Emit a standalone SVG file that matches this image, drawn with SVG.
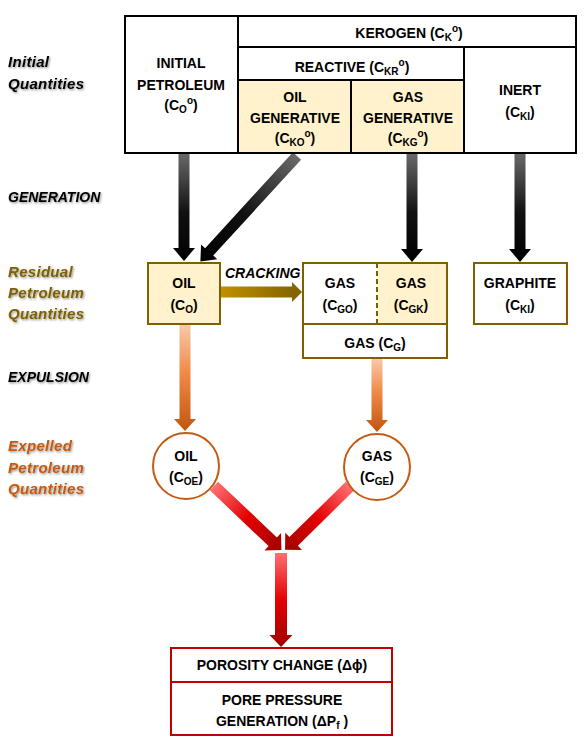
<svg xmlns="http://www.w3.org/2000/svg" width="588" height="746" viewBox="0 0 588 746">
<style>
text{font-family:"Liberation Sans",Arial,sans-serif;font-size:14px;font-weight:bold;fill:#000}
.c{text-anchor:middle}
.s{font-size:10px}
.lbl{font-style:italic;filter:url(#sh)}
.lw{font-size:15px;letter-spacing:0.3px}
.res{fill:#7F6000}
.exp{fill:#C55A11}
.bk{fill:none;stroke:#000;stroke-width:2}
.ol{stroke:#7F6000;stroke-width:2}
.rd{stroke:#C00000;stroke-width:2}
</style>
<defs>
<filter id="sh" x="-10%" y="-20%" width="130%" height="160%"><feDropShadow dx="1" dy="1.2" stdDeviation="0.9" flood-color="#000" flood-opacity="0.45"/></filter>
<linearGradient id="gk" x1="0" y1="0" x2="1" y2="0"><stop offset="0" stop-color="#6a6a6a"/><stop offset="0.55" stop-color="#111"/><stop offset="1" stop-color="#000"/></linearGradient>
<linearGradient id="gy" x1="0" y1="0" x2="1" y2="0"><stop offset="0" stop-color="#C09000"/><stop offset="1" stop-color="#7F6000"/></linearGradient>
<linearGradient id="go" x1="0" y1="0" x2="1" y2="0"><stop offset="0" stop-color="#F8C8A8"/><stop offset="0.45" stop-color="#F08A48"/><stop offset="1" stop-color="#C0560F"/></linearGradient>
<linearGradient id="gr" x1="0" y1="0" x2="1" y2="0"><stop offset="0" stop-color="#FF6F73"/><stop offset="0.5" stop-color="#E30000"/><stop offset="1" stop-color="#A00000"/></linearGradient>
</defs>
<rect width="588" height="746" fill="#fff"/>

<g id="labels">
<text class="lbl lw" x="8" y="67">Initial</text>
<text class="lbl lw" x="8" y="89">Quantities</text>
<text class="lbl" x="8" y="202">GENERATION</text>
<text class="lbl lw res" x="8" y="277">Residual</text>
<text class="lbl lw res" x="8" y="298">Petroleum</text>
<text class="lbl lw res" x="8" y="319">Quantities</text>
<text class="lbl" x="8" y="382">EXPULSION</text>
<text class="lbl lw exp" x="8" y="451">Expelled</text>
<text class="lbl lw exp" x="8" y="473">Petroleum</text>
<text class="lbl lw exp" x="8" y="494">Quantities</text>
</g>

<g id="connectors">
<polygon fill="url(#gk)" transform="translate(184,153) rotate(90)" points="0,-5.5 95,-5.5 95,-11 108,0 95,11 95,5.5 0,5.5"/>
<polygon fill="url(#gk)" transform="translate(297,156) rotate(132.5)" points="0,-5.5 130,-5.5 130,-11 143,0 130,11 130,5.5 0,5.5"/>
<polygon fill="url(#gk)" transform="translate(412,153) rotate(90)" points="0,-5.5 96,-5.5 96,-11 109,0 96,11 96,5.5 0,5.5"/>
<polygon fill="url(#gk)" transform="translate(520,153) rotate(90)" points="0,-5.5 96,-5.5 96,-11 109,0 96,11 96,5.5 0,5.5"/>
<polygon fill="url(#gy)" transform="translate(221,292)" points="0,-5.5 71,-5.5 71,-10 81,0 71,10 71,5.5 0,5.5"/>
<text x="225" y="278" style="font-style:italic">CRACKING</text>
<polygon fill="url(#go)" transform="translate(185,325) rotate(90)" points="0,-5.5 94,-5.5 94,-11 106,0 94,11 94,5.5 0,5.5"/>
<polygon fill="url(#go)" transform="translate(377,359) rotate(90)" points="0,-5.5 61,-5.5 61,-11 73,0 61,11 61,5.5 0,5.5"/>
<polygon fill="url(#gr)" transform="translate(214,486) rotate(43.5)" points="0,-6 81,-6 81,-12 93,0 81,12 81,6 0,6"/>
<polygon fill="url(#gr)" transform="translate(350,486) rotate(135.5)" points="0,-6 79,-6 79,-12 91,0 79,12 79,6 0,6"/>
<polygon fill="url(#gr)" transform="translate(281,553) rotate(90)" points="0,-6 82,-6 82,-11.5 94,0 82,11.5 82,6 0,6"/>
</g>

<g id="initial-box">
<rect x="125" y="16" width="451" height="137" fill="#fff"/>
<rect x="238" y="80" width="226" height="73" fill="#FFF2CC"/>
<rect class="bk" x="125" y="16" width="451" height="137"/>
<line class="bk" x1="238" y1="16" x2="238" y2="153"/>
<line class="bk" x1="238" y1="47" x2="576" y2="47"/>
<line class="bk" x1="238" y1="80" x2="464" y2="80"/>
<line class="bk" x1="464" y1="47" x2="464" y2="153"/>
<line class="bk" x1="351" y1="80" x2="351" y2="153"/>
</g>
<g id="initial-petroleum">
<text class="c" x="181" y="68">INITIAL</text>
<text class="c" x="181" y="90">PETROLEUM</text>
<text class="c" x="181" y="110">(C<tspan class="s" dy="3">O</tspan><tspan class="s" dy="-9">o</tspan><tspan dy="6">)</tspan></text>
</g>
<g id="kerogen"><text class="c" x="409" y="38">KEROGEN (C<tspan class="s" dy="3">K</tspan><tspan class="s" dy="-9">o</tspan><tspan dy="6">)</tspan></text></g>
<g id="reactive"><text class="c" x="352" y="72">REACTIVE (C<tspan class="s" dy="3">KR</tspan><tspan class="s" dy="-9">o</tspan><tspan dy="6">)</tspan></text></g>
<g id="oil-generative">
<text class="c" x="295" y="102">OIL</text>
<text class="c" x="295" y="123">GENERATIVE</text>
<text class="c" x="295" y="143">(C<tspan class="s" dy="3">KO</tspan><tspan class="s" dy="-9">o</tspan><tspan dy="6">)</tspan></text>
</g>
<g id="gas-generative">
<text class="c" x="408" y="102">GAS</text>
<text class="c" x="408" y="123">GENERATIVE</text>
<text class="c" x="408" y="143">(C<tspan class="s" dy="3">KG</tspan><tspan class="s" dy="-9">o</tspan><tspan dy="6">)</tspan></text>
</g>
<g id="inert">
<text class="c" x="520" y="95">INERT</text>
<text class="c" x="520" y="117">(C<tspan class="s" dy="3">KI</tspan><tspan dy="-3">)</tspan></text>
</g>

<g id="oil-residual">
<rect class="ol" x="148" y="263" width="72" height="61" fill="#FFF2CC"/>
<text class="c" x="184" y="288">OIL</text>
<text class="c" x="184" y="310">(C<tspan class="s" dy="3">O</tspan><tspan dy="-3">)</tspan></text>
</g>
<g id="gas-residual">
<rect x="377" y="263" width="70" height="61" fill="#FFF2CC"/>
<rect class="ol" x="303" y="263" width="144" height="95" fill="none"/>
<line class="ol" x1="303" y1="324" x2="447" y2="324"/>
<line class="ol" x1="377" y1="263" x2="377" y2="324" stroke-dasharray="5,3"/>
<text class="c" x="340" y="288">GAS</text>
<text class="c" x="340" y="310">(C<tspan class="s" dy="3">GO</tspan><tspan dy="-3">)</tspan></text>
<text class="c" x="411" y="288">GAS</text>
<text class="c" x="411" y="310">(C<tspan class="s" dy="3">GK</tspan><tspan dy="-3">)</tspan></text>
<text class="c" x="375" y="348">GAS (C<tspan class="s" dy="3">G</tspan><tspan dy="-3">)</tspan></text>
</g>
<g id="graphite">
<rect class="ol" x="474" y="263" width="93" height="61" fill="#fff"/>
<text class="c" x="520" y="288">GRAPHITE</text>
<text class="c" x="520" y="310">(C<tspan class="s" dy="3">KI</tspan><tspan dy="-3">)</tspan></text>
</g>

<g id="oil-expelled">
<circle cx="186" cy="466" r="33" fill="#fff" stroke="#C55A11" stroke-width="2"/>
<text class="c" x="186" y="461">OIL</text>
<text class="c" x="186" y="482">(C<tspan class="s" dy="3">OE</tspan><tspan dy="-3">)</tspan></text>
</g>
<g id="gas-expelled">
<circle cx="377" cy="467" r="33" fill="#fff" stroke="#C55A11" stroke-width="2"/>
<text class="c" x="377" y="461">GAS</text>
<text class="c" x="377" y="482">(C<tspan class="s" dy="3">GE</tspan><tspan dy="-3">)</tspan></text>
</g>

<g id="result">
<rect class="rd" x="171" y="648" width="221" height="87" fill="#fff"/>
<line class="rd" x1="171" y1="682" x2="392" y2="682"/>
<text class="c" x="282" y="670">POROSITY CHANGE (Δϕ)</text>
<text class="c" x="282" y="705">PORE PRESSURE</text>
<text class="c" x="282" y="726">GENERATION (ΔP<tspan class="s" dy="3">f</tspan><tspan dy="-3"> )</tspan></text>
</g>
</svg>
